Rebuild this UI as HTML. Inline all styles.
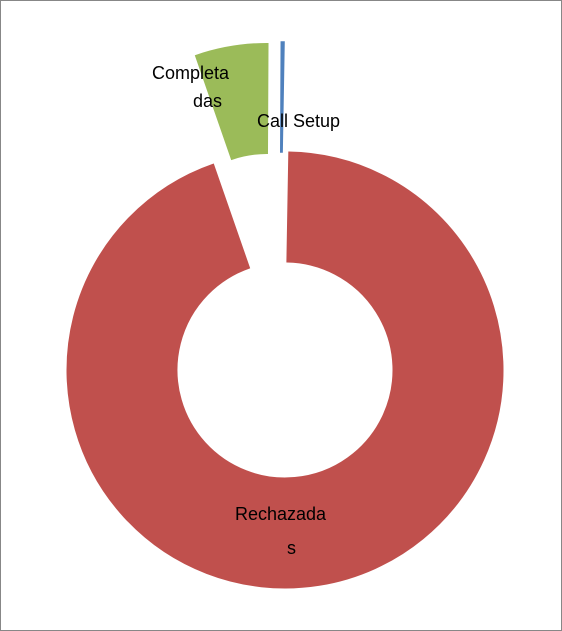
<!DOCTYPE html>
<html><head><meta charset="utf-8"><style>
html,body{margin:0;padding:0;background:#fff;}
svg{display:block;font-family:"Liberation Sans",sans-serif;}
</style></head><body>
<svg id="chart" width="562" height="631">
<rect x="0.5" y="0.5" width="561" height="630" fill="#fff" stroke="#878787"/>
<g id="slices"></g>
<text x="152" y="79" font-size="18" fill="#000">Completa</text>
<text x="193" y="107" font-size="18" fill="#000">das</text>
<text x="257" y="127" font-size="18" fill="#000">Call Setup</text>
<text x="235" y="520" font-size="18" fill="#000">Rechazada</text>
<text x="287" y="554" font-size="18" fill="#000">s</text>
</svg>
<script>
const categories = ["Rechazadas", "Completadas", "Call Setup"];
const values = [94.4, 5.4, 0.2];
const explode = [0, 110, 110];
const colors = ["#c0504d", "#9bbb59", "#4f81bd"];
const cx = 285, cy = 370, R = 218, r = 108, startDeg = 1;
const total = values.reduce((a, b) => a + b, 0);
const g = document.getElementById('slices');
function pt(a, rad, ox, oy) { const t = a * Math.PI / 180; return [cx + ox + rad * Math.sin(t), cy + oy - rad * Math.cos(t)]; }
let a0 = startDeg;
values.forEach((v, i) => {
  const sweep = v / total * 360;
  const a1 = a0 + sweep;
  const mid = (a0 + a1) / 2 * Math.PI / 180;
  const ox = explode[i] * Math.sin(mid) - (i === 2 ? 6 : 0), oy = -explode[i] * Math.cos(mid);
  const large = sweep > 180 ? 1 : 0;
  const p1 = pt(a0, R, ox, oy), p2 = pt(a1, R, ox, oy), p3 = pt(a1, r, ox, oy), p4 = pt(a0, r, ox, oy);
  const d = `M${p1[0]},${p1[1]} A${R},${R} 0 ${large} 1 ${p2[0]},${p2[1]} L${p3[0]},${p3[1]} A${r},${r} 0 ${large} 0 ${p4[0]},${p4[1]} Z`;
  const path = document.createElementNS('http://www.w3.org/2000/svg', 'path');
  path.setAttribute('d', d);
  path.setAttribute('fill', colors[i]);
  path.setAttribute('stroke', colors[i]);
  path.setAttribute('stroke-width', i === 2 ? '1.5' : '1');
  
  
  g.appendChild(path);
  a0 = a1;
});
</script>
</body></html>
